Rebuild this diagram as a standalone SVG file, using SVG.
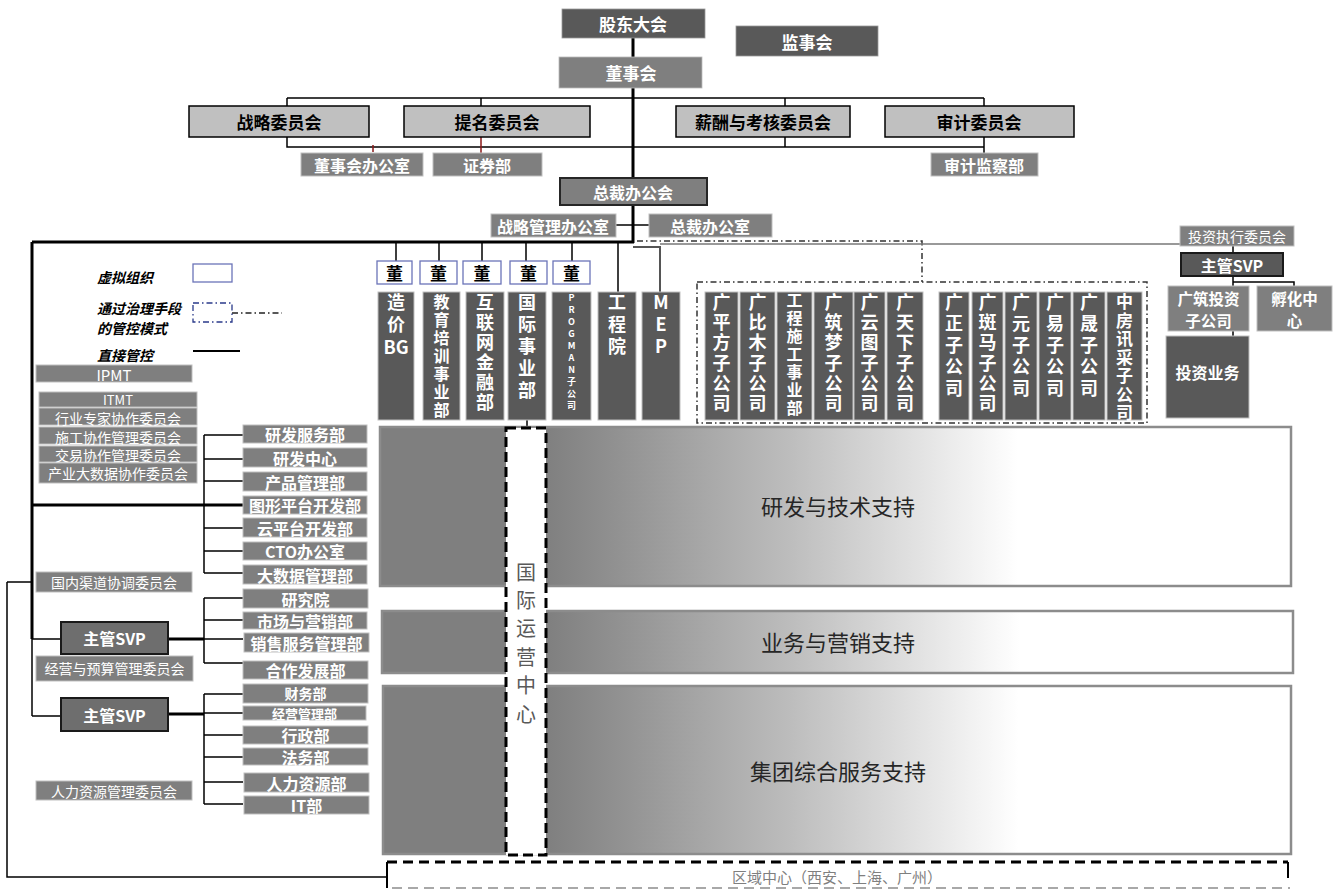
<svg xmlns="http://www.w3.org/2000/svg" width="1337" height="889" viewBox="0 0 1337 889">
<defs>
<style>
text{font-family:"Noto Sans CJK SC","Liberation Sans",sans-serif;dominant-baseline:central;text-anchor:middle}
.vt{writing-mode:vertical-rl;text-anchor:start}
.up{text-orientation:upright}
.wb{fill:#fff;font-weight:bold}
.wr{fill:#fff}
.dk{fill:#595959}
.md{fill:#7f7f7f}
.cm{fill:#c0c0c0;stroke:#000;stroke-width:1.5}
.dept{fill:#7f7f7f;stroke:#bfbfbf;stroke-width:1}
.col{fill:#595959;stroke:#bfbfbf;stroke-width:1}
.dong{fill:#fff;stroke:#6b74b8;stroke-width:1.3}
.ln{fill:none;stroke:#000;stroke-width:1.5}
.th{fill:none;stroke:#000;stroke-width:3}
.band{fill:url(#g);stroke:#8c8c8c;stroke-width:2.5}
.lg{fill:#000;font-weight:bold;font-style:italic;font-size:14px;text-anchor:start}
.svp{fill:#6e6e6e;stroke:#1a1a1a;stroke-width:2}
</style>
<linearGradient id="g" x1="0" y1="0" x2="1" y2="0">
<stop offset="0" stop-color="#7f7f7f"/>
<stop offset="0.18" stop-color="#7f7f7f"/>
<stop offset="0.45" stop-color="#bdbdbd"/>
<stop offset="0.7" stop-color="#ffffff"/>
<stop offset="1" stop-color="#ffffff"/>
</linearGradient>
</defs>
<rect width="1337" height="889" fill="#fff"/>

<g id="connectors">
<path class="th" d="M633,38 V57 M633,88 V177"/>
<path class="th" d="M633,204 V243" stroke-width="4"/>
<path class="ln" d="M287,98 H984 M287,98 V106 M481,98 V106 M785,98 V106 M984,98 V106"/>
<path class="ln" d="M287,137 V147 H984 M785,137 V147 M984,137 V153"/>
<path fill="none" stroke="#8b1a1a" stroke-width="1.5" d="M481,137 V153 M373,145 V152"/>
<path class="ln" d="M616,225 H649"/>
<path class="th" d="M32,242 H634"/>
<path class="ln" d="M396,242 V261 M439,242 V261 M482,242 V261 M526,242 V261 M572,242 V261 M618,242 V292"/>
<path fill="none" stroke="#555" stroke-width="2" d="M633,247 H660 V292"/>
<path fill="none" stroke="#333" stroke-width="1.5" stroke-dasharray="6 3 1.5 3" d="M637,241 H922 V282"/>
<path fill="none" stroke="#777" stroke-width="1.5" d="M660,244 H1180"/>
<path class="ln" d="M1233,246 V253 M1233,276 V286 M1233,282 H1294 V286 M1233,331 V336" stroke-width="1.3"/>
<path class="th" d="M32,242 V639"/>
<path class="ln" d="M32,639 V716"/>
<path class="th" d="M32,505 H243"/>
<path class="ln" d="M204,435 V573 M204,435 H243 M204,459 H243 M204,481 H243 M204,528 H243 M204,551 H243 M204,573 H243"/>
<path class="ln" d="M32,639 H61 M32,716 H61"/>
<path class="th" d="M168,639 H204 M168,714 H204" stroke-width="2.5"/>
<path class="ln" d="M204,598 V663 M204,598 H243 M204,620 H243 M204,639 H243 M204,663 H243"/>
<path class="ln" d="M204,694 V804 M204,694 H243 M204,713 H243 M204,735 H243 M204,757 H243 M204,782 H243 M204,804 H243"/>
<path class="ln" d="M7,582 H32 M7,582 V877 H387"/>
<path class="ln" d="M527,420 V428"/>
</g>

<g id="legend">
<text class="lg" x="97" y="277">虚拟组织</text>
<rect x="193" y="264" width="39" height="18" fill="#fff" stroke="#6b74b8" stroke-width="1.3"/>
<text class="lg" x="97" y="308">通过治理手段</text>
<text class="lg" x="97" y="328">的管控模式</text>
<rect x="193" y="303" width="39" height="19" fill="#fff" stroke="#2a3a8a" stroke-width="1.3" stroke-dasharray="6 3 1.5 3"/>
<path d="M232,313 H282" stroke="#222" stroke-width="1.3" stroke-dasharray="6 3 1.5 3"/>
<text class="lg" x="97" y="355">直接管控</text>
<path d="M193,351 H240" stroke="#000" stroke-width="1.8"/>
</g>

<g id="n-gudong"><rect class="dk" x="562" y="9" width="143" height="29" stroke="#999" stroke-width="0.8"/><text class="wb" x="633" y="23" font-size="17">股东大会</text></g>
<g id="n-jianshi"><rect class="dk" x="736" y="26" width="142" height="30" stroke="#999" stroke-width="0.8"/><text class="wb" x="807" y="41" font-size="17">监事会</text></g>
<g id="n-dongshi"><rect class="md" x="559" y="57" width="143" height="31" stroke="#bbb" stroke-width="0.8"/><text class="wb" x="631" y="72" font-size="17">董事会</text></g>

<g id="n-zhanlue"><rect class="cm" x="189" y="106" width="180" height="31"/><text x="279" y="121" font-size="17" font-weight="bold">战略委员会</text></g>
<g id="n-timing"><rect class="cm" x="404" y="106" width="186" height="31"/><text x="497" y="121" font-size="17" font-weight="bold">提名委员会</text></g>
<g id="n-xinchou"><rect class="cm" x="676" y="106" width="174" height="31"/><text x="763" y="121" font-size="17" font-weight="bold">薪酬与考核委员会</text></g>
<g id="n-shenji"><rect class="cm" x="885" y="106" width="189" height="31"/><text x="979" y="121" font-size="17" font-weight="bold">审计委员会</text></g>

<g id="n-dsbgs"><rect class="dept" x="301" y="153" width="122" height="23"/><text class="wb" x="362" y="164.5" font-size="16">董事会办公室</text></g>
<g id="n-zqb"><rect class="dept" x="433" y="153" width="109" height="23"/><text class="wb" x="487" y="164.5" font-size="16">证券部</text></g>
<g id="n-sjjcb"><rect class="dept" x="931" y="153" width="107" height="23"/><text class="wb" x="984" y="164.5" font-size="16">审计监察部</text></g>

<g id="n-zcbgh"><rect x="560" y="178" width="147" height="27" fill="#7f7f7f" stroke="#262626" stroke-width="2"/><text class="wb" x="633" y="191.5" font-size="16">总裁办公会</text></g>
<g id="n-zlglbgs"><rect class="dept" x="491" y="214" width="125" height="23"/><text class="wb" x="553" y="225.5" font-size="16">战略管理办公室</text></g>
<g id="n-zcbgs"><rect class="dept" x="649" y="214" width="123" height="23"/><text class="wb" x="710" y="225.5" font-size="16">总裁办公室</text></g>

<g id="n-dong-boxes">
<rect class="dong" x="377" y="261" width="35" height="23"/><text x="394.5" y="272.5" font-size="17" font-weight="bold">董</text>
<rect class="dong" x="420" y="261" width="37" height="23"/><text x="438.5" y="272.5" font-size="17" font-weight="bold">董</text>
<rect class="dong" x="463" y="261" width="38" height="23"/><text x="482" y="272.5" font-size="17" font-weight="bold">董</text>
<rect class="dong" x="510" y="261" width="37" height="23"/><text x="528.5" y="272.5" font-size="17" font-weight="bold">董</text>
<rect class="dong" x="553" y="261" width="37" height="23"/><text x="571.5" y="272.5" font-size="17" font-weight="bold">董</text>
</g>

<g id="n-zaojia"><rect class="col" x="378" y="292" width="36" height="128"/><text class="wb vt" x="396" y="293" font-size="18" letter-spacing="4">造价</text><text class="wb" x="396" y="346" font-size="18" font-family="Liberation Sans">BG</text></g>
<g id="n-jiaoyu"><rect class="col" x="423" y="292" width="37" height="128"/><text class="wb vt" x="441.5" y="294" font-size="16" letter-spacing="2">教育培训事业部</text></g>
<g id="n-hulian"><rect class="col" x="466" y="292" width="38" height="128"/><text class="wb vt" x="485" y="293" font-size="18" letter-spacing="2">互联网金融部</text></g>
<g id="n-guoji"><rect class="col" x="508" y="292" width="38" height="128"/><text class="wb vt" x="527" y="293" font-size="18" letter-spacing="4">国际事业部</text></g>
<g id="n-progman"><rect class="col" x="552" y="292" width="39" height="128"/><text class="wb vt up" x="571.5" y="293.5" font-size="9" letter-spacing="3">PROGMAN子公司</text></g>
<g id="n-gcy"><rect class="col" x="598" y="292" width="38" height="128"/><text class="wb vt" x="617" y="293" font-size="18" letter-spacing="4">工程院</text></g>
<g id="n-mep"><rect class="col" x="642" y="292" width="38" height="128"/><text class="wb vt up" x="661" y="293" font-size="18" letter-spacing="4">MEP</text></g>

<g id="n-subs">
<rect x="697" y="282" width="450" height="141" fill="none" stroke="#333" stroke-width="1.5" stroke-dasharray="6 3 1.5 3"/>
<g id="n-gpf"><rect class="col" x="705" y="292" width="33" height="128"/><text class="wb vt" x="721.5" y="293" font-size="18" letter-spacing="2.3">广平方子公司</text></g>
<g id="n-gbm"><rect class="col" x="740" y="292" width="35" height="128"/><text class="wb vt" x="757.5" y="293" font-size="18" letter-spacing="2.3">广比木子公司</text></g>
<g id="n-gcsg"><rect class="col" x="777" y="292" width="35" height="128"/><text class="wb vt" x="794.5" y="292" font-size="16" letter-spacing="2">工程施工事业部</text></g>
<g id="n-gzm"><rect class="col" x="814" y="292" width="39" height="128"/><text class="wb vt" x="833.5" y="293" font-size="18" letter-spacing="2.3">广筑梦子公司</text></g>
<g id="n-gyt"><rect class="col" x="854" y="292" width="31" height="128"/><text class="wb vt" x="869.5" y="293" font-size="18" letter-spacing="2.3">广云图子公司</text></g>
<g id="n-gtx"><rect class="col" x="887" y="292" width="36" height="128"/><text class="wb vt" x="905" y="293" font-size="18" letter-spacing="2.3">广天下子公司</text></g>
<g id="n-gz"><rect class="col" x="939" y="292" width="30" height="128"/><text class="wb vt" x="954" y="293" font-size="18" letter-spacing="3.5">广正子公司</text></g>
<g id="n-gbma"><rect class="col" x="972" y="292" width="31" height="128"/><text class="wb vt" x="987.5" y="293" font-size="18" letter-spacing="2.3">广斑马子公司</text></g>
<g id="n-gy"><rect class="col" x="1005" y="292" width="32" height="128"/><text class="wb vt" x="1021" y="293" font-size="18" letter-spacing="3.5">广元子公司</text></g>
<g id="n-gyi"><rect class="col" x="1039" y="292" width="32" height="128"/><text class="wb vt" x="1055" y="293" font-size="18" letter-spacing="3.5">广易子公司</text></g>
<g id="n-gs"><rect class="col" x="1073" y="292" width="32" height="128"/><text class="wb vt" x="1089" y="293" font-size="18" letter-spacing="3.5">广晟子公司</text></g>
<g id="n-zfxc"><rect class="col" x="1107" y="292" width="35" height="128"/><text class="wb vt" x="1124.5" y="293.5" font-size="17" letter-spacing="1.5">中房讯采子公司</text></g>
</g>

<g id="n-tzzx"><rect class="dept" x="1180" y="226" width="114" height="20"/><text class="wr" x="1237" y="236" font-size="14">投资执行委员会</text></g>
<g id="n-svp-r"><rect x="1181" y="253" width="102" height="23" fill="#595959" stroke="#1a1a1a" stroke-width="2"/><text class="wb" x="1232" y="264.5" font-size="16">主管SVP</text></g>
<g id="n-gztz"><rect class="dept" x="1168" y="286" width="81" height="45"/><text class="wb" x="1208.5" y="298" font-size="15.5">广筑投资</text><text class="wb" x="1208.5" y="320" font-size="15.5">子公司</text></g>
<g id="n-fhzx"><rect class="dept" x="1257" y="286" width="75" height="45"/><text class="wb" x="1294.5" y="298" font-size="15.5">孵化中</text><text class="wb" x="1294.5" y="320" font-size="15.5">心</text></g>
<g id="n-tzyw"><rect class="col" x="1166" y="336" width="83" height="82"/><text class="wb" x="1207.5" y="372" font-size="16">投资业务</text></g>

<g id="n-left-cmte">
<g id="n-ipmt"><rect class="dept" x="36" y="365" width="156" height="17"/><text class="wr" x="114" y="374" font-size="15" font-family="Liberation Sans">IPMT</text></g>
<g id="n-itmt"><rect class="dept" x="39" y="392" width="158" height="15"/><text class="wr" x="118" y="399" font-size="13" font-family="Liberation Sans">ITMT</text></g>
<g id="n-hyzj"><rect class="dept" x="39" y="408" width="158" height="17"/><text class="wr" x="118" y="418" font-size="14">行业专家协作委员会</text></g>
<g id="n-sgxz"><rect class="dept" x="39" y="427" width="158" height="17"/><text class="wr" x="118" y="437" font-size="14">施工协作管理委员会</text></g>
<g id="n-jyxz"><rect class="dept" x="39" y="446" width="158" height="16"/><text class="wr" x="118" y="455" font-size="14">交易协作管理委员会</text></g>
<g id="n-cydsj"><rect class="dept" x="39" y="463" width="158" height="20"/><text class="wr" x="118" y="473" font-size="14">产业大数据协作委员会</text></g>
<g id="n-gnqd"><rect class="dept" x="36" y="572" width="156" height="20"/><text class="wr" x="114" y="582" font-size="14">国内渠道协调委员会</text></g>
<g id="n-jyys"><rect class="dept" x="36" y="656" width="157" height="25"/><text class="wr" x="114.5" y="668" font-size="14">经营与预算管理委员会</text></g>
<g id="n-rlzy"><rect class="dept" x="36" y="781" width="156" height="19"/><text class="wr" x="114" y="790.5" font-size="14">人力资源管理委员会</text></g>
</g>

<g id="n-svp1"><rect class="svp" x="61" y="622" width="107" height="32"/><text class="wb" x="114.5" y="638" font-size="16">主管SVP</text></g>
<g id="n-svp2"><rect class="svp" x="61" y="698" width="107" height="33"/><text class="wb" x="114.5" y="714.5" font-size="16">主管SVP</text></g>

<g id="n-depts">
<g id="n-yffw"><rect class="dept" x="243" y="425" width="124" height="18"/><text class="wb" x="305" y="434" font-size="16">研发服务部</text></g>
<g id="n-yfzx"><rect class="dept" x="243" y="448" width="124" height="19"/><text class="wb" x="305" y="457.5" font-size="16">研发中心</text></g>
<g id="n-cpgl"><rect class="dept" x="243" y="472" width="124" height="19"/><text class="wb" x="305" y="481.5" font-size="16">产品管理部</text></g>
<g id="n-txpt"><rect class="dept" x="243" y="496" width="124" height="18"/><text class="wb" x="305" y="505" font-size="16">图形平台开发部</text></g>
<g id="n-ypt"><rect class="dept" x="243" y="518" width="124" height="19"/><text class="wb" x="305" y="527.5" font-size="16">云平台开发部</text></g>
<g id="n-cto"><rect class="dept" x="243" y="542" width="124" height="18"/><text class="wb" x="305" y="551" font-size="16">CTO办公室</text></g>
<g id="n-dsj"><rect class="dept" x="243" y="565" width="124" height="19"/><text class="wb" x="305" y="574.5" font-size="16">大数据管理部</text></g>
<g id="n-yjy"><rect class="dept" x="243" y="589" width="125" height="19"/><text class="wb" x="305.5" y="598.5" font-size="16">研究院</text></g>
<g id="n-scyx"><rect class="dept" x="243" y="612" width="124" height="17"/><text class="wb" x="305" y="620.5" font-size="16">市场与营销部</text></g>
<g id="n-xsfw"><rect class="dept" x="244" y="633" width="125" height="19"/><text class="wb" x="306.5" y="642.5" font-size="16">销售服务管理部</text></g>
<g id="n-hzfz"><rect class="dept" x="243" y="661" width="125" height="18"/><text class="wb" x="305.5" y="670" font-size="16">合作发展部</text></g>
<g id="n-cwb"><rect class="dept" x="243" y="684" width="125" height="19"/><text class="wb" x="305.5" y="693" font-size="14">财务部</text></g>
<g id="n-jygl"><rect class="dept" x="243" y="706" width="123" height="14"/><text class="wb" x="304.5" y="713.5" font-size="13">经营管理部</text></g>
<g id="n-xzb"><rect class="dept" x="243" y="726" width="125" height="18"/><text class="wb" x="305.5" y="735" font-size="16">行政部</text></g>
<g id="n-fwb"><rect class="dept" x="243" y="748" width="125" height="17"/><text class="wb" x="305.5" y="756.5" font-size="16">法务部</text></g>
<g id="n-rlzyb"><rect class="dept" x="244" y="773" width="125" height="19"/><text class="wb" x="306.5" y="782.5" font-size="16">人力资源部</text></g>
<g id="n-itb"><rect class="dept" x="244" y="796" width="125" height="18"/><text class="wb" x="306.5" y="805" font-size="16">IT部</text></g>
</g>

<g id="n-band1"><rect class="band" x="380" y="427" width="911" height="159"/><text x="838" y="505" font-size="22" fill="#262626">研发与技术支持</text></g>
<g id="n-band2"><rect class="band" x="382" y="611" width="911" height="62"/><text x="838" y="641" font-size="22" fill="#262626">业务与营销支持</text></g>
<g id="n-band3"><rect class="band" x="383" y="686" width="908" height="168"/><text x="838" y="770" font-size="22" fill="#262626">集团综合服务支持</text></g>

<g id="n-gjyy"><rect x="506" y="428" width="40" height="427" fill="#fff" stroke="#000" stroke-width="3" stroke-dasharray="10 5"/><text class="vt" x="526" y="562" font-size="20" letter-spacing="8.4" fill="#595959">国际运营中心</text></g>

<g id="n-quyu">
<path d="M387,862 H1288" stroke="#000" stroke-width="3" stroke-dasharray="10 6" fill="none"/>
<path d="M1288,862 V878 M387,862 V888" stroke="#000" stroke-width="2" fill="none"/>
<path d="M392,888 H1290" stroke="#8c8c8c" stroke-width="1.5" stroke-dasharray="10 6" fill="none"/>
<text x="837" y="876" font-size="15" fill="#7f7f7f">区域中心（西安、上海、广州）</text>
</g>
</svg>
